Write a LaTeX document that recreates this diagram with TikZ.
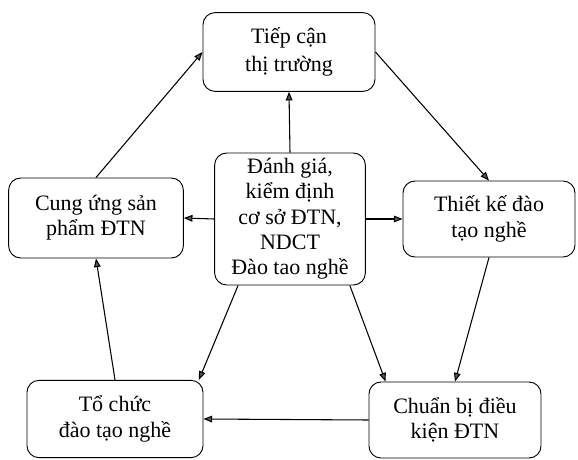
\documentclass[tikz,border=0pt]{standalone}
\usepackage{fontspec}
\setmainfont{Liberation Serif}
\usetikzlibrary{arrows.meta}
\begin{document}
\begin{tikzpicture}[x=0.75pt, y=-0.75pt,
  box/.style={draw, line width=0.7pt, rounded corners=9pt, align=center, inner sep=0pt,
    font=\fontsize{16.5}{19}\selectfont},
  flow/.style={-{Triangle[length=6.5pt, width=5pt, fill=black!65]}, line width=0.8pt}]

\useasboundingbox (0,0) rectangle (578,460);

\def\xm{289}; % middle column
\def\yt{52}; % top row
\def\ym{219}; % middle row
\def\yb{419}; % bottom row

\node[box, minimum width=129pt, minimum height=59pt, font=\fontsize{16.5}{21}\selectfont] (market) at (\xm, \yt) {Tiếp cận\\thị trường};
\node[box, minimum width=113pt, minimum height=99pt] (assess) at (\xm+1, \ym) {Đánh giá,\\kiểm định\\cơ sở ĐTN,\\NDCT\\Đào tao nghề};
\node[box, minimum width=131pt, minimum height=60pt] (supply) at (96, \ym-1) {Cung ứng sản\\phẩm ĐTN};
\node[box, minimum width=129pt, minimum height=57pt] (design) at (489, \ym) {Thiết kế đào\\tạo nghề};
\node[box, minimum width=132pt, minimum height=58pt] (organize) at (115, \yb) {Tổ chức\\đào tạo nghề};
\node[box, minimum width=129pt, minimum height=57pt] (prepare) at (455, \yb+1) {Chuẩn bị điều\\kiện ĐTN};

% outer cycle
\draw[flow] (market.east) -- (design.north);
\draw[flow] (design.south) -- (prepare.north);
\draw[flow] (prepare.west) -- (organize.east);
\draw[flow] (organize.north) -- (supply.south);
\draw[flow] (supply.north) -- (market.west);

% from the centre
\draw[flow] (assess.north) -- (market.south);
\draw[flow] (assess.west) -- (supply.east);
\draw[flow] (assess.east) -- (design.west);
\draw[flow] (assess.-128) -- (organize.25);
\draw[flow] (assess.-48) -- (prepare.151);

\end{tikzpicture}
\end{document}
